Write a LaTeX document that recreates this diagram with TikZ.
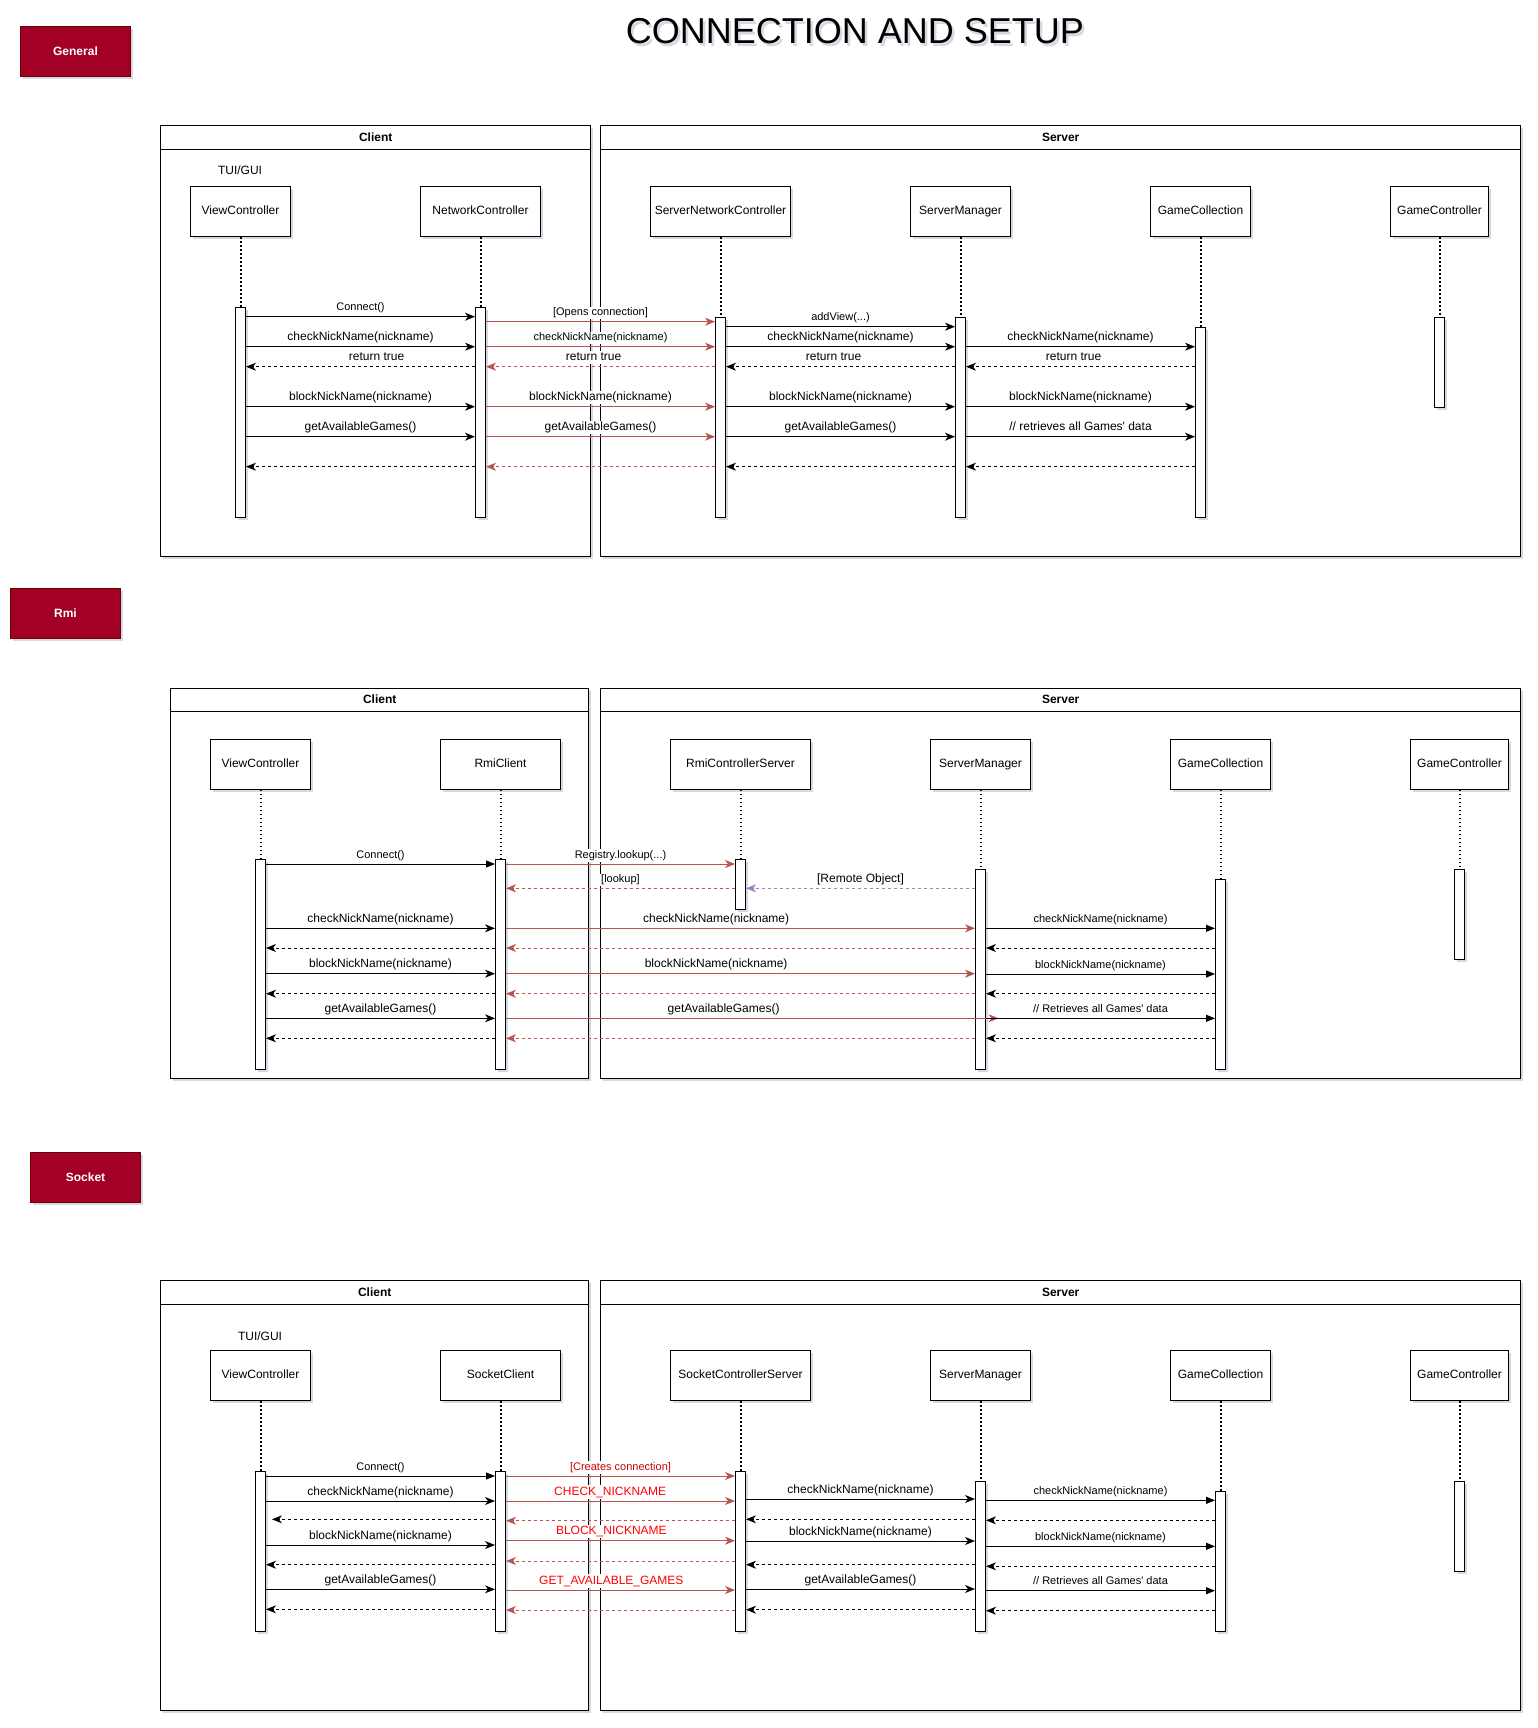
\documentclass[tikz,border=0pt]{standalone}
\usepackage{fontspec}
\setmainfont{Liberation Sans}
\usetikzlibrary{arrows.meta,shadows}
\newcommand{\fsz}[1]{\fontsize{#1}{#1}\selectfont}
\definecolor{crimson}{HTML}{A20025}
\definecolor{crimsonline}{HTML}{6F0000}
\definecolor{msgred}{HTML}{B85450}
\definecolor{msgpurple}{HTML}{A680B8}
\definecolor{txtred}{HTML}{FF0000}
\definecolor{txtdarkred}{HTML}{CC0000}
\definecolor{shade}{HTML}{8C94B0}

\begin{document}
\begin{tikzpicture}[x=1pt,y=-1pt,line width=1pt]
\tikzset{
  soft/.style={drop shadow={shadow xshift=2.5pt,shadow yshift=-2.5pt,opacity=.35,fill=shade}},
  frame/.style={draw,fill=white,soft},
  part/.style={draw,fill=white,soft,minimum height=50,inner sep=0pt,font=\fsz{12},text height=8.7pt,text depth=2.5pt},
  act/.style={draw,fill=white,soft,minimum width=10,inner sep=0pt,anchor=north},
  tag/.style={draw=crimsonline,fill=crimson,soft,text=white,minimum width=110,minimum height=50,inner sep=0pt,font=\bfseries\fsz{12},anchor=north west},
  life/.style={line width=2pt,dash pattern=on 1.8pt off 2.2pt},
  call/.style={-{Stealth[length=10pt,width=8pt,inset=3pt]}},
  blk/.style={-{Triangle[length=9pt,width=7pt]}},
  ret/.style={call,dash pattern=on 3pt off 3pt},
  rcall/.style={call,draw=msgred},
  rret/.style={ret,draw=msgred},
  lbl/.style={fill=white,inner sep=1pt,anchor=south,yshift=2pt,font=\fsz{12},text height=8.7pt,text depth=2.5pt},
  sml/.style={lbl,font=\fsz{11},text height=8pt,text depth=2.3pt},
  head/.style={font=\bfseries\fsz{12}}
}
\path[use as bounding box,fill=white] (0,0) rectangle (1537,1728);

\node[font=\fsz{36},text=shade,opacity=.35] (titleshade) at (857.5,34) {CONNECTION AND SETUP};
\node[font=\fsz{36}] (title) at (855,31) {CONNECTION AND SETUP};
\node[tag] (general) at (20,26) {General};
\node[tag] (rmi) at (10,588) {Rmi};
\node[tag] (socket) at (30,1152) {Socket};

% ---------------- General ----------------
\draw[frame] (160.7,126) rectangle (590.7,556);
\draw (160.7,149.3) -- (590.7,149.3);
\node[head] (client1) at (375.7,137.7) {Client};
\draw[frame] (600.7,126) rectangle (1520.7,556);
\draw (600.7,149.3) -- (1520.7,149.3);
\node[head] (server1) at (1060.7,137.7) {Server};
\node[font=\fsz{12}] (tui1) at (240,170.7) {TUI/GUI};

\node[part,minimum width=100] (vc1) at (240.5,211.3) {ViewController};
\node[part,minimum width=120] (nc1) at (480.5,211.3) {NetworkController};
\node[part,minimum width=140] (snc1) at (720.5,211.3) {ServerNetworkController};
\node[part,minimum width=100] (sm1) at (960.5,211.3) {ServerManager};
\node[part,minimum width=100] (gcl1) at (1200.5,211.3) {GameCollection};
\node[part,minimum width=98] (gct1) at (1439.5,211.3) {GameController};

\node[act,minimum height=210] (vc1b) at (240.5,306.7) {};
\node[act,minimum height=210] (nc1b) at (480.5,306.7) {};
\node[act,minimum height=200] (snc1b) at (720.5,316.7) {};
\node[act,minimum height=200] (sm1b) at (960.5,316.7) {};
\node[act,minimum height=190] (gcl1b) at (1200.5,326.7) {};
\node[act,minimum height=90] (gct1b) at (1439.5,316.7) {};
\foreach \p in {vc1,nc1,snc1,sm1,gcl1,gct1}
  \draw[life] (\p.south) -- (\p b.north);

\draw[call] (vc1b.east |- 0,316.7) -- node[sml]{Connect()} (nc1b.west |- 0,316.7);
\draw[call] (vc1b.east |- 0,346.7) -- node[lbl]{checkNickName(nickname)} (nc1b.west |- 0,346.7);
\draw[ret] (nc1b.west |- 0,366.7) -- node[lbl,pos=.43]{return true} (vc1b.east |- 0,366.7);
\draw[call] (vc1b.east |- 0,406.7) -- node[lbl]{blockNickName(nickname)} (nc1b.west |- 0,406.7);
\draw[call] (vc1b.east |- 0,436.7) -- node[lbl]{getAvailableGames()} (nc1b.west |- 0,436.7);
\draw[ret] (nc1b.west |- 0,466.7) -- (vc1b.east |- 0,466.7);

\draw[rcall] (nc1b.east |- 0,321.7) -- node[sml]{[Opens connection]} (snc1b.west |- 0,321.7);
\draw[rcall] (nc1b.east |- 0,346.7) -- node[sml]{checkNickName(nickname)} (snc1b.west |- 0,346.7);
\draw[rret] (snc1b.west |- 0,366.7) -- node[lbl,pos=.53]{return true} (nc1b.east |- 0,366.7);
\draw[rcall] (nc1b.east |- 0,406.7) -- node[lbl]{blockNickName(nickname)} (snc1b.west |- 0,406.7);
\draw[rcall] (nc1b.east |- 0,436.7) -- node[lbl]{getAvailableGames()} (snc1b.west |- 0,436.7);
\draw[rret] (snc1b.west |- 0,466.7) -- (nc1b.east |- 0,466.7);

\draw[call] (snc1b.east |- 0,326.7) -- node[sml]{addView(...)} (sm1b.west |- 0,326.7);
\draw[call] (snc1b.east |- 0,346.7) -- node[lbl]{checkNickName(nickname)} (sm1b.west |- 0,346.7);
\draw[ret] (sm1b.west |- 0,366.7) -- node[lbl,pos=.53]{return true} (snc1b.east |- 0,366.7);
\draw[call] (snc1b.east |- 0,406.7) -- node[lbl]{blockNickName(nickname)} (sm1b.west |- 0,406.7);
\draw[call] (snc1b.east |- 0,436.7) -- node[lbl]{getAvailableGames()} (sm1b.west |- 0,436.7);
\draw[ret] (sm1b.west |- 0,466.7) -- (snc1b.east |- 0,466.7);

\draw[call] (sm1b.east |- 0,346.7) -- node[lbl]{checkNickName(nickname)} (gcl1b.west |- 0,346.7);
\draw[ret] (gcl1b.west |- 0,366.7) -- node[lbl,pos=.53]{return true} (sm1b.east |- 0,366.7);
\draw[call] (sm1b.east |- 0,406.7) -- node[lbl]{blockNickName(nickname)} (gcl1b.west |- 0,406.7);
\draw[call] (sm1b.east |- 0,436.7) -- node[lbl]{// retrieves all Games\textquotesingle{} data} (gcl1b.west |- 0,436.7);
\draw[ret] (gcl1b.west |- 0,466.7) -- (sm1b.east |- 0,466.7);

% ---------------- Rmi ----------------
\draw[frame] (170.7,688) rectangle (588.7,1078);
\draw (170.7,711.3) -- (588.7,711.3);
\node[head] (client2) at (379.7,699.7) {Client};
\draw[frame] (600.7,688) rectangle (1520.7,1078);
\draw (600.7,711.3) -- (1520.7,711.3);
\node[head] (server2) at (1060.7,699.7) {Server};

\node[part,minimum width=100] (vc2) at (260.5,764) {ViewController};
\node[part,minimum width=120] (rc2) at (500.5,764) {RmiClient};
\node[part,minimum width=140] (rcs2) at (740.5,764) {RmiControllerServer};
\node[part,minimum width=100] (sm2) at (980.5,764) {ServerManager};
\node[part,minimum width=100] (gcl2) at (1220.5,764) {GameCollection};
\node[part,minimum width=98] (gct2) at (1459.5,764) {GameController};

\node[act,minimum height=210] (vc2b) at (260.5,859) {};
\node[act,minimum height=210] (rc2b) at (500.5,859) {};
\node[act,minimum height=50] (rcs2b) at (740.5,859) {};
\node[act,minimum height=200] (sm2b) at (980.5,869) {};
\node[act,minimum height=190] (gcl2b) at (1220.5,879) {};
\node[act,minimum height=90] (gct2b) at (1459.5,869) {};
\foreach \p in {vc2,rc2,rcs2,sm2,gcl2,gct2}
  \draw[life] (\p.south) -- (\p b.north);

\draw[blk] (vc2b.east |- 0,864) -- node[sml]{Connect()} (rc2b.west |- 0,864);
\draw[call] (vc2b.east |- 0,928.3) -- node[lbl]{checkNickName(nickname)} (rc2b.west |- 0,928.3);
\draw[ret] (rc2b.west |- 0,948) -- (vc2b.east |- 0,948);
\draw[call] (vc2b.east |- 0,973.7) -- node[lbl]{blockNickName(nickname)} (rc2b.west |- 0,973.7);
\draw[ret] (rc2b.west |- 0,993.7) -- (vc2b.east |- 0,993.7);
\draw[call] (vc2b.east |- 0,1018.3) -- node[lbl]{getAvailableGames()} (rc2b.west |- 0,1018.3);
\draw[ret] (rc2b.west |- 0,1038.3) -- (vc2b.east |- 0,1038.3);

\draw[rcall] (rc2b.east |- 0,864) -- node[sml]{Registry.lookup(...)} (rcs2b.west |- 0,864);
\draw[rret] (rcs2b.west |- 0,888.3) -- node[sml]{[lookup]} (rc2b.east |- 0,888.3);
\draw[ret,draw=msgpurple] (sm2b.west |- 0,888.3) -- node[lbl]{[Remote Object]} (rcs2b.east |- 0,888.3);
\draw[rcall] (rc2b.east |- 0,928.3) -- node[lbl,pos=.448]{checkNickName(nickname)} (sm2b.west |- 0,928.3);
\draw[rret] (sm2b.west |- 0,948) -- (rc2b.east |- 0,948);
\draw[rcall] (rc2b.east |- 0,973.7) -- node[lbl,pos=.448]{blockNickName(nickname)} (sm2b.west |- 0,973.7);
\draw[rret] (sm2b.west |- 0,993.7) -- (rc2b.east |- 0,993.7);
\draw[rcall,shorten >=-23.5pt] (rc2b.east |- 0,1018.3) -- node[lbl,pos=.464]{getAvailableGames()} (sm2b.west |- 0,1018.3);
\draw[rret] (sm2b.west |- 0,1038.3) -- (rc2b.east |- 0,1038.3);

\draw[blk] (sm2b.east |- 0,928.3) -- node[sml]{checkNickName(nickname)} (gcl2b.west |- 0,928.3);
\draw[ret] (gcl2b.west |- 0,948) -- (sm2b.east |- 0,948);
\draw[blk] (sm2b.east |- 0,974) -- node[sml]{blockNickName(nickname)} (gcl2b.west |- 0,974);
\draw[ret] (gcl2b.west |- 0,993.7) -- (sm2b.east |- 0,993.7);
\draw[blk] (sm2b.east |- 0,1018.3) -- node[sml]{// Retrieves all Games\textquotesingle{} data} (gcl2b.west |- 0,1018.3);
\draw[ret] (gcl2b.west |- 0,1038.3) -- (sm2b.east |- 0,1038.3);

% ---------------- Socket ----------------
\draw[frame] (160.7,1280.7) rectangle (588.7,1710.7);
\draw (160.7,1304) -- (588.7,1304);
\node[head] (client3) at (374.7,1292.4) {Client};
\draw[frame] (600.7,1280.7) rectangle (1520.7,1710.7);
\draw (600.7,1304) -- (1520.7,1304);
\node[head] (server3) at (1060.7,1292.4) {Server};
\node[font=\fsz{12}] (tui3) at (260,1335.7) {TUI/GUI};

\node[part,minimum width=100] (vc3) at (260.5,1375.8) {ViewController};
\node[part,minimum width=120] (scl3) at (500.5,1375.8) {SocketClient};
\node[part,minimum width=140] (scs3) at (740.5,1375.8) {SocketControllerServer};
\node[part,minimum width=100] (sm3) at (980.5,1375.8) {ServerManager};
\node[part,minimum width=100] (gcl3) at (1220.5,1375.8) {GameCollection};
\node[part,minimum width=98] (gct3) at (1459.5,1375.8) {GameController};

\node[act,minimum height=160] (vc3b) at (260.5,1471) {};
\node[act,minimum height=160] (scl3b) at (500.5,1471) {};
\node[act,minimum height=160] (scs3b) at (740.5,1471) {};
\node[act,minimum height=150] (sm3b) at (980.5,1481) {};
\node[act,minimum height=140] (gcl3b) at (1220.5,1491) {};
\node[act,minimum height=90] (gct3b) at (1459.5,1481) {};
\foreach \p in {vc3,scl3,scs3,sm3,gcl3,gct3}
  \draw[life] (\p.south) -- (\p b.north);

\draw[blk] (vc3b.east |- 0,1476) -- node[sml]{Connect()} (scl3b.west |- 0,1476);
\draw[call] (vc3b.east |- 0,1501) -- node[lbl]{checkNickName(nickname)} (scl3b.west |- 0,1501);
\draw[ret,shorten >=6pt] (scl3b.west |- 0,1519.3) -- (vc3b.east |- 0,1519.3);
\draw[call] (vc3b.east |- 0,1545) -- node[lbl]{blockNickName(nickname)} (scl3b.west |- 0,1545);
\draw[ret] (scl3b.west |- 0,1564.7) -- (vc3b.east |- 0,1564.7);
\draw[call] (vc3b.east |- 0,1589.3) -- node[lbl]{getAvailableGames()} (scl3b.west |- 0,1589.3);
\draw[ret] (scl3b.west |- 0,1609.3) -- (vc3b.east |- 0,1609.3);

\draw[rcall] (scl3b.east |- 0,1476) -- node[sml,text=txtdarkred]{[Creates connection]} (scs3b.west |- 0,1476);
\draw[rcall] (scl3b.east |- 0,1501) -- node[lbl,pos=.455,text=txtred]{CHECK\_NICKNAME} (scs3b.west |- 0,1501);
\draw[rret] (scs3b.west |- 0,1520.7) -- (scl3b.east |- 0,1520.7);
\draw[rcall] (scl3b.east |- 0,1540.7) -- node[lbl,pos=.46,text=txtred]{BLOCK\_NICKNAME} (scs3b.west |- 0,1540.7);
\draw[rret] (scs3b.west |- 0,1561) -- (scl3b.east |- 0,1561);
\draw[rcall] (scl3b.east |- 0,1590) -- node[lbl,pos=.46,text=txtred]{GET\_AVAILABLE\_GAMES} (scs3b.west |- 0,1590);
\draw[rret] (scs3b.west |- 0,1610) -- (scl3b.east |- 0,1610);

\draw[call] (scs3b.east |- 0,1499) -- node[lbl]{checkNickName(nickname)} (sm3b.west |- 0,1499);
\draw[ret] (sm3b.west |- 0,1519.3) -- (scs3b.east |- 0,1519.3);
\draw[call] (scs3b.east |- 0,1541) -- node[lbl]{blockNickName(nickname)} (sm3b.west |- 0,1541);
\draw[ret] (sm3b.west |- 0,1564.7) -- (scs3b.east |- 0,1564.7);
\draw[call] (scs3b.east |- 0,1589) -- node[lbl]{getAvailableGames()} (sm3b.west |- 0,1589);
\draw[ret] (sm3b.west |- 0,1609.7) -- (scs3b.east |- 0,1609.7);

\draw[blk] (sm3b.east |- 0,1500.3) -- node[sml]{checkNickName(nickname)} (gcl3b.west |- 0,1500.3);
\draw[ret] (gcl3b.west |- 0,1520.3) -- (sm3b.east |- 0,1520.3);
\draw[blk] (sm3b.east |- 0,1546.3) -- node[sml]{blockNickName(nickname)} (gcl3b.west |- 0,1546.3);
\draw[ret] (gcl3b.west |- 0,1566.3) -- (sm3b.east |- 0,1566.3);
\draw[blk] (sm3b.east |- 0,1590.7) -- node[sml]{// Retrieves all Games\textquotesingle{} data} (gcl3b.west |- 0,1590.7);
\draw[ret] (gcl3b.west |- 0,1610.7) -- (sm3b.east |- 0,1610.7);
\end{tikzpicture}
\end{document}
